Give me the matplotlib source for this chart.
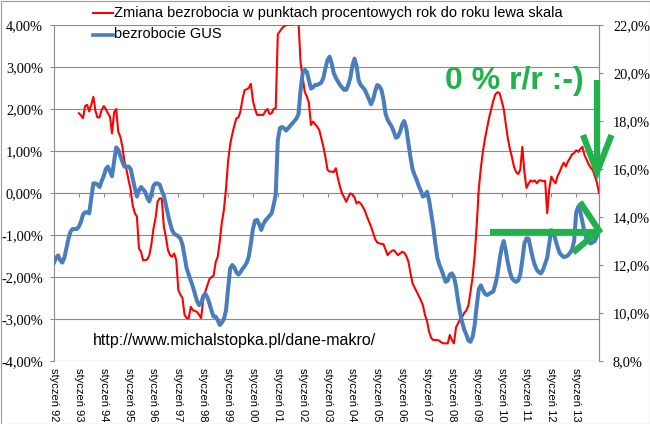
#!/usr/bin/env python3
import matplotlib
matplotlib.use("Agg")
import matplotlib.pyplot as plt
from matplotlib.lines import Line2D
from matplotlib.patches import Rectangle
from matplotlib.ticker import FuncFormatter, MultipleLocator

# Stopa bezrobocia GUS (%), styczen 1992 - grudzien 2013, odczyt z wykresu
unemployment = [
    12.1, 12.3, 12.4, 12.2, 12.1, 12.3, 12.7, 13.1, 13.4, 13.5, 13.5, 13.5,      # 1992
    13.6, 13.8, 14.1, 14.2, 14.2, 14.15, 14.8, 15.4, 15.4, 15.35, 15.25, 15.5,   # 1993
    15.7, 16.0, 16.1, 15.9, 15.7, 16.3, 16.9, 16.8, 16.55, 16.3, 16.1, 16.1,     # 1994
    16.1, 16.0, 15.6, 15.2, 14.85, 15.1, 15.25, 15.15, 15.05, 14.8, 14.65, 14.95,  # 1995
    15.3, 15.4, 15.4, 15.35, 15.1, 14.9, 14.5, 14.1, 13.75, 13.45, 13.3, 13.25,  # 1996
    13.2, 13.1, 12.85, 12.35, 11.86, 11.6, 11.35, 11.1, 10.8, 10.5, 10.33, 10.4,  # 1997
    10.7, 10.8, 10.65, 10.4, 10.1, 9.85, 9.85, 9.7, 9.5, 9.6, 9.75, 10.1,        # 1998
    11.0, 11.85, 12.0, 11.9, 11.7, 11.6, 11.7, 11.85, 11.95, 12.1, 12.35, 12.9,  # 1999
    13.5, 13.85, 13.88, 13.7, 13.46, 13.7, 13.85, 13.95, 14.05, 14.15, 14.5, 14.95,  # 2000
    17.2, 17.7, 17.75, 17.7, 17.6, 17.7, 17.8, 17.9, 18.0, 18.1, 18.3, 19.3,     # 2001
    20.0, 20.13, 20.05, 19.7, 19.35, 19.4, 19.5, 19.5, 19.55, 19.6, 19.8, 20.2,  # 2002
    20.55, 20.68, 20.4, 20.0, 19.8, 19.65, 19.5, 19.4, 19.3, 19.3, 19.5, 19.8,   # 2003
    20.3, 20.6, 20.3, 19.7, 19.5, 19.4, 19.3, 19.1, 18.9, 18.7, 18.9, 19.25,     # 2004
    19.5, 19.45, 19.3, 18.9, 18.3, 18.05, 17.9, 17.76, 17.55, 17.3, 17.35, 17.55,  # 2005
    17.85, 18.0, 17.7, 17.1, 16.5, 16.0, 15.75, 15.55, 15.3, 15.1, 14.85, 14.9,  # 2006
    15.05, 14.7, 14.15, 13.6, 12.9, 12.3, 12.0, 11.8, 11.55, 11.3, 11.35, 11.6,  # 2007
    11.65, 11.5, 11.1, 10.5, 10.0, 9.6, 9.3, 9.1, 8.85, 8.8, 9.0, 9.5,           # 2008
    10.3, 11.0, 11.15, 10.95, 10.8, 10.75, 10.8, 10.85, 10.9, 11.2, 11.6, 12.2,  # 2009
    12.7, 13.0, 12.6, 12.1, 11.7, 11.45, 11.35, 11.3, 11.35, 11.6, 12.2, 12.9,   # 2010
    13.11, 13.1, 12.7, 12.3, 12.0, 11.8, 11.7, 11.65, 11.8, 12.05, 12.3, 12.9,   # 2011
    13.45, 13.4, 13.05, 12.75, 12.5, 12.4, 12.33, 12.35, 12.4, 12.5, 12.65, 13.0,  # 2012
    14.2, 14.43, 14.2, 13.8, 13.35, 13.1, 12.95, 12.9, 12.95, 13.0, 13.2, 13.45,  # 2013
]

# Zmiana r/r w pp, od stycznia 1993
yoy_change = [
    1.90, 1.85, 1.78, 2.07, 2.10, 1.94, 2.10, 2.29, 1.95, 1.80, 1.80, 1.98,           # 1993
    2.07, 2.00, 1.90, 1.82, 1.42, 1.92, 2.00, 1.46, 1.34, 1.10, 0.75, 0.55,           # 1994
    0.30, 0.08, -0.30, -0.48, -0.56, -1.32, -1.40, -1.60, -1.60, -1.58, -1.48, -1.22,  # 1995
    -0.85, -0.60, -0.20, -0.13, -0.13, -0.80, -1.05, -1.36, -1.48, -1.52, -1.44, -1.60,  # 1996
    -2.31, -2.42, -2.50, -2.90, -2.98, -2.98, -2.71, -2.79, -2.81, -2.83, -2.90, -2.98,  # 1997
    -2.55, -2.35, -2.20, -2.05, -2.00, -1.97, -1.65, -1.52, -1.15, -0.70, -0.40, 0.10,  # 1998
    0.75, 1.15, 1.40, 1.60, 1.78, 1.80, 1.95, 2.25, 2.45, 2.47, 2.50, 2.60,           # 1999
    2.20, 2.00, 1.86, 1.86, 1.86, 1.86, 1.95, 2.00, 1.88, 1.90, 2.00, 2.02,           # 2000
    3.78, 3.85, 3.92, 3.97, 4.00, 4.00, 4.02, 4.00, 4.15, 4.20, 4.05, 3.10,           # 2001
    2.75, 2.41, 2.30, 2.15, 1.62, 1.70, 1.64, 1.58, 1.50, 1.30, 1.10, 0.85,           # 2002
    0.55, 0.51, 0.51, 0.50, 0.59, 0.35, 0.15, -0.01, -0.10, -0.21, -0.10, -0.01,      # 2003
    -0.03, -0.10, -0.25, -0.21, -0.25, -0.33, -0.42, -0.56, -0.68, -0.80, -0.95, -1.10,  # 2004
    -1.18, -1.20, -1.21, -1.22, -1.35, -1.48, -1.42, -1.38, -1.36, -1.42, -1.48, -1.44,  # 2005
    -1.40, -1.42, -1.50, -1.63, -1.90, -2.15, -2.25, -2.35, -2.45, -2.55, -2.67, -2.90,  # 2006
    -3.05, -3.30, -3.45, -3.50, -3.50, -3.50, -3.52, -3.56, -3.58, -3.58, -3.58, -3.38,  # 2007
    -3.50, -3.58, -3.20, -3.10, -3.00, -2.95, -2.85, -2.80, -2.67, -2.35, -2.00, -1.50,  # 2008
    -0.75, 0.10, 0.60, 1.00, 1.30, 1.55, 1.80, 2.00, 2.20, 2.35, 2.40, 2.38,          # 2009
    2.20, 2.00, 1.65, 1.30, 1.05, 0.85, 0.62, 0.50, 0.45, 0.55, 1.10, 0.50,           # 2010
    0.12, 0.22, 0.30, 0.27, 0.30, 0.23, 0.30, 0.30, 0.28, 0.29, -0.48, 0.10,          # 2011
    0.39, 0.30, 0.23, 0.40, 0.50, 0.63, 0.72, 0.63, 0.75, 0.83, 0.92, 0.95,           # 2012
    1.02, 0.98, 1.05, 1.10, 0.90, 0.80, 0.68, 0.60, 0.55, 0.40, 0.25, 0.00,           # 2013
]

years = [f"{y % 100:02d}" for y in range(1992, 2014)]
tick_labels = [f"styczeń {y}" for y in years]

RED_LABEL = "Zmiana bezrobocia w punktach procentowych rok do roku lewa skala"
BLUE_LABEL = "bezrobocie GUS"
NOTE = "0 % r/r :-)"
URL = "http://www.michalstopka.pl/dane-makro/"

GRID = "#8c8c8c"
GREEN = "#22b14c"
W, H = 650, 424


def fx(x):
    return x / W


def fy(y):
    return 1 - y / H


def main():
    months_blue = list(range(len(unemployment)))
    months_red = list(range(12, 12 + len(yoy_change)))

    fig = plt.figure(figsize=(W / 100, H / 100), dpi=100)
    ax = fig.add_axes([fx(54), fy(361), fx(545), 336 / H])
    ax2 = ax.twinx()

    ax.plot(months_red, yoy_change, color="#ff0000", lw=1.5, zorder=3)
    ax2.plot(months_blue, unemployment, color="#4a7ebb", lw=2.9,
             solid_joinstyle="round")

    # left scale
    ax.set_ylim(-4, 4)
    ax.yaxis.set_major_locator(MultipleLocator(1))
    ax.yaxis.set_major_formatter(
        FuncFormatter(lambda v, p: f"{v:.2f}%".replace(".", ",")))
    ax.grid(axis="y", color=GRID, lw=0.8)
    ax.set_axisbelow(True)

    # right scale
    ax2.set_ylim(8, 22)
    ax2.yaxis.set_major_locator(MultipleLocator(2))
    ax2.yaxis.set_major_formatter(
        FuncFormatter(lambda v, p: f"{v:.1f}%".replace(".", ",")))

    # category axis crossing at 0 (position first: it resets the ticks)
    ax.spines["bottom"].set_position(("data", 0))
    ax.set_xlim(0, len(unemployment) - 1)
    ax.set_xticks(months_blue[::12])
    ax.set_xticklabels(tick_labels, va="top", ha="center",
                       family="Liberation Sans", fontsize=8.0)
    ax.tick_params(axis="x", direction="out", length=3, width=0.8,
                   color=GRID, pad=123, labelrotation=-90)

    for a in (ax, ax2):
        a.spines["top"].set_visible(False)
        for s in a.spines.values():
            s.set_color(GRID)
            s.set_linewidth(0.8)
    ax2.spines["bottom"].set_visible(False)
    ax2.spines["left"].set_visible(False)

    ax.tick_params(axis="y", length=3, width=0.8, color=GRID, pad=5)
    ax2.tick_params(axis="y", length=3, width=0.8, color=GRID, pad=7)
    for lab in ax.get_yticklabels() + ax2.get_yticklabels():
        lab.set_family("Liberation Serif")
        lab.set_fontsize(10.4)

    # legend drawn by hand in the top-left corner
    fig.add_artist(Line2D([fx(93), fx(113)], [fy(13), fy(13)],
                          transform=fig.transFigure, color="#ff0000", lw=1.5))
    fig.add_artist(Line2D([fx(93), fx(113)], [fy(34.5), fy(34.5)],
                          transform=fig.transFigure, color="#4a7ebb", lw=2.6))
    fig.text(fx(114), fy(13), RED_LABEL, va="center", ha="left",
             family="Liberation Sans", fontsize=10.5)
    fig.text(fx(114), fy(34.5), BLUE_LABEL, va="center", ha="left",
             family="Liberation Sans", fontsize=10.5)

    fig.text(fx(92.7), fy(340), URL, va="center", ha="left",
             family="Liberation Sans", fontsize=11.5)

    # comment and arrows
    fig.text(fx(445), fy(81), NOTE, va="center", ha="left", color=GREEN,
             family="Liberation Sans", fontsize=23, fontweight="bold")
    arrow_kw = dict(transform=fig.transFigure, color=GREEN, lw=4.5,
                    solid_capstyle="butt", solid_joinstyle="miter")
    fig.add_artist(Line2D([fx(597), fx(597)], [fy(80), fy(168)], **arrow_kw))
    fig.add_artist(Line2D([fx(583), fx(597), fx(611.5)],
                          [fy(135), fy(172), fy(135)], **arrow_kw))
    fig.add_artist(Line2D([fx(490), fx(596)], [fy(231.5), fy(231.5)], **arrow_kw))
    fig.add_artist(Line2D([fx(580), fx(599), fx(573)],
                          [fy(202), fy(230.5), fy(252.5)], **arrow_kw))

    fig.add_artist(Rectangle((0.5 / W, 0.5 / H), 1 - 1 / W, 1 - 1 / H,
                             transform=fig.transFigure, fill=False,
                             edgecolor="#9a9a9a", lw=0.8))

    fig.savefig("out.png", dpi=100)


if __name__ == "__main__":
    main()
